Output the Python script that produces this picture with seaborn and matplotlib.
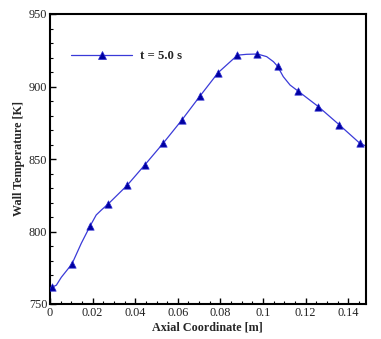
import matplotlib
matplotlib.use("Agg")
import matplotlib.pyplot as plt
from matplotlib.lines import Line2D
from matplotlib.ticker import MultipleLocator, FormatStrFormatter
import seaborn as sns
import pandas as pd

# Marker positions
marker_x = [0.0009, 0.0103, 0.0189, 0.0274, 0.0362, 0.0446, 0.0532, 0.0618,
            0.0704, 0.0789, 0.0880, 0.0974, 0.1068, 0.1164, 0.1260, 0.1357, 0.1454]
marker_y = [761.5, 777.6, 804.0, 819.1, 831.8, 846.1, 861.0, 876.7,
            893.4, 909.5, 921.6, 922.4, 914.0, 896.9, 886.1, 873.7, 860.9]

# Smooth curve points
line_x = [0.0009, 0.0030, 0.0053, 0.0103, 0.0147, 0.0189, 0.0217, 0.0241, 0.0274,
          0.0362, 0.0446, 0.0532, 0.0618, 0.0704, 0.0789, 0.0880, 0.0923, 0.0974,
          0.1017, 0.1049, 0.1068, 0.1095, 0.1127, 0.1164, 0.1260, 0.1357, 0.1454, 0.1482]
line_y = [761.5, 763.0, 768.4, 777.6, 791.9, 804.0, 811.4, 814.8, 819.1,
          831.8, 846.1, 861.0, 876.7, 893.4, 909.5, 921.6, 922.2, 922.4,
          920.6, 917.1, 914.0, 906.8, 901.0, 896.9, 886.1, 873.7, 860.9, 859.0]

legend_label = "t = 5.0 s"
x_label = "Axial Coordinate [m]"
y_label = "Wall Temperature [K]"

sns.set_theme(style="ticks")
plt.rcParams["font.family"] = ["Liberation Serif", "DejaVu Serif"]

fig = plt.figure(figsize=(3.81, 3.39), dpi=100)
ax = fig.add_axes([50 / 381, 35 / 339, 315.7 / 381, 290 / 339])

line_color = "#3a3ad8"
marker_color = "#0000a0"

df_line = pd.DataFrame({"x": line_x, "y": line_y})
df_mark = pd.DataFrame({"x": marker_x, "y": marker_y})

sns.lineplot(data=df_line, x="x", y="y", ax=ax, color=line_color, lw=0.9,
             sort=False, legend=False)
sns.scatterplot(data=df_mark, x="x", y="y", ax=ax, marker="^", s=28,
                color=marker_color, edgecolor="#2a2ad0", linewidth=0.5,
                legend=False, zorder=3)

ax.set_xlim(0, 0.1482)
ax.set_ylim(750, 950)
ax.xaxis.set_major_locator(MultipleLocator(0.02))
ax.xaxis.set_minor_locator(MultipleLocator(0.005))
ax.yaxis.set_major_locator(MultipleLocator(50))
ax.yaxis.set_minor_locator(MultipleLocator(10))
ax.xaxis.set_major_formatter(FormatStrFormatter("%g"))

ax.tick_params(which="both", direction="in", top=False, right=False,
               labelsize=8.8, colors="black", pad=2)
ax.tick_params(which="major", length=4.5, width=1)
ax.tick_params(which="minor", length=2.5, width=0.8)
for lab in ax.get_xticklabels() + ax.get_yticklabels():
    lab.set_color("#222222")

for sp in ax.spines.values():
    sp.set_visible(True)
    sp.set_linewidth(1.5)
    sp.set_color("black")

ax.set_xlabel(x_label, fontsize=8.7, fontweight="bold", labelpad=2)
ax.set_ylabel(y_label, fontsize=8.7, fontweight="bold", labelpad=3)

handle = Line2D([0], [0], color=line_color, lw=0.9, marker="^", markersize=5.8,
                markerfacecolor=marker_color, markeredgecolor="#2a2ad0",
                markeredgewidth=0.5)
leg = ax.legend([handle], [legend_label], loc="center left",
                bbox_to_anchor=(0.066, 0.855), frameon=False, borderpad=0,
                borderaxespad=0, handlelength=4.8, handletextpad=0.6,
                prop={"family": ["Liberation Serif"], "weight": "bold", "size": 9.2})

fig.savefig("out.png", dpi=100)
